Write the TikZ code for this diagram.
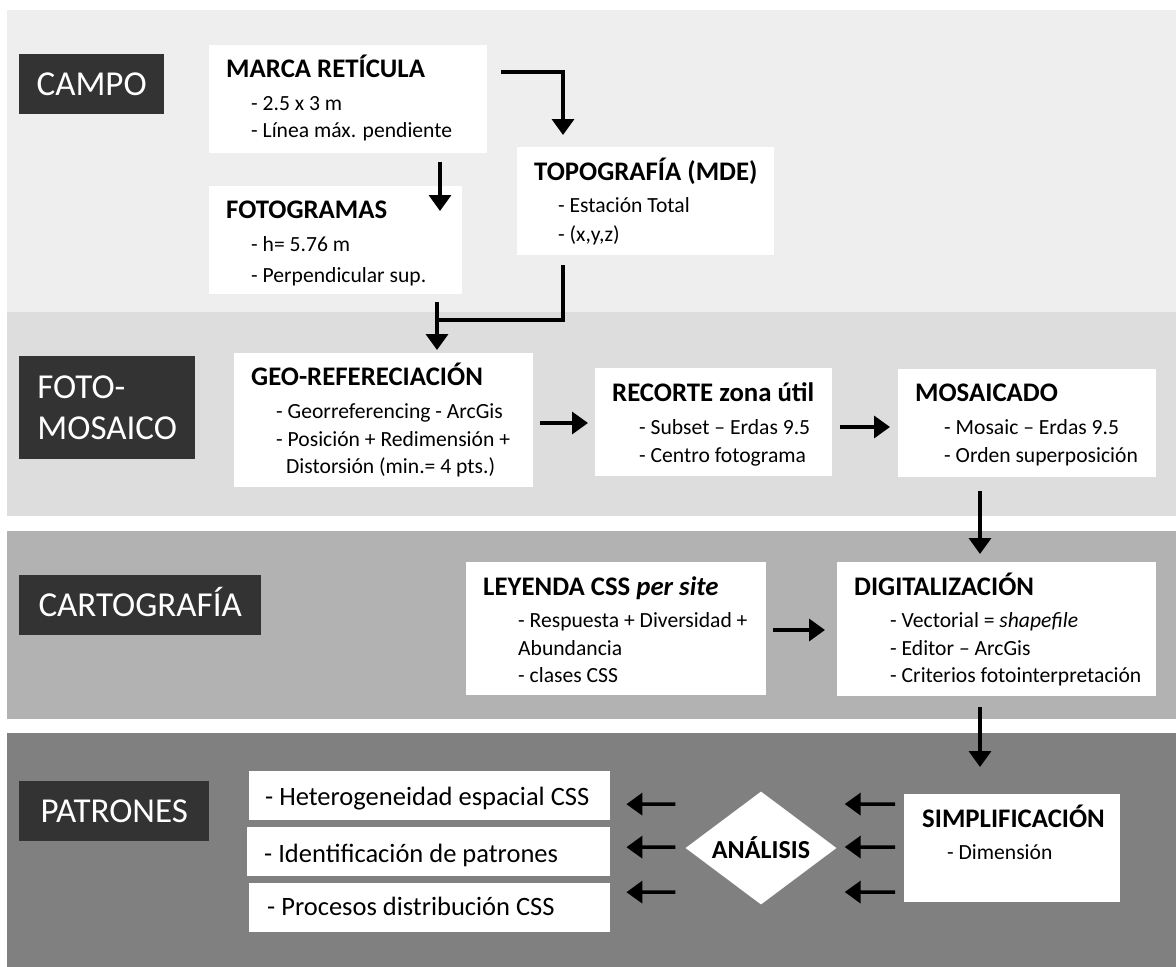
\documentclass[tikz,border=0pt]{standalone}
\usepackage{fontspec}
\setmainfont{Carlito}
\usetikzlibrary{arrows.meta,shapes.geometric,calc}
\definecolor{bandCampo}{HTML}{EEEEEE}
\definecolor{bandFoto}{HTML}{DDDDDD}
\definecolor{bandCarto}{HTML}{B2B2B2}
\definecolor{bandPatr}{HTML}{808080}
\definecolor{phasebg}{HTML}{333333}
\begin{document}
\begin{tikzpicture}[x=1pt,y=-1pt,
  wbox/.style={fill=white, inner sep=0pt, anchor=north west},
  phase/.style={fill=phasebg, text=white, inner sep=0pt, anchor=north west,
    align=left, font=\fontsize{35}{41}\selectfont},
  ttl/.style={anchor=base west, inner sep=0pt, font=\fontsize{26.8}{32}\selectfont\bfseries},
  itm/.style={anchor=base west, inner sep=0pt, font=\fontsize{21.6}{27}\selectfont},
  big/.style={anchor=base west, inner sep=0pt, font=\fontsize{26.5}{32}\selectfont},
  arr/.style={line width=3.5pt, -{Triangle[width=22pt,length=16pt]}},
  conn/.style={line width=3.5pt}]
\useasboundingbox (0,0) rectangle (1176,967);
\fill[white] (0,0) rectangle (1176,967);

% phase bands
\fill[bandCampo] (7,10) rectangle (1176,312);
\fill[bandFoto]  (7,312) rectangle (1176,516);
\fill[bandCarto] (7,531) rectangle (1176,719);
\fill[bandPatr]  (7,733) rectangle (1176,967);

% phase labels
\node[phase, minimum width=145pt, minimum height=60pt, text height=23pt, text depth=0pt] (lcampo) at (19,54) {CAMPO};
\node[phase, minimum width=176pt, minimum height=103pt] (lfoto) at (19,356) {FOTO-\\MOSAICO};
\node[phase, minimum width=242pt, minimum height=60pt, text height=23pt, text depth=0pt] (lcarto) at (19,575) {CARTOGRAFÍA};
\node[phase, minimum width=190pt, minimum height=60pt, text height=23pt, text depth=0pt] (lpatr) at (19,781) {PATRONES};

% process boxes
\node[wbox, minimum width=278pt, minimum height=108pt] (marca) at (209,45) {};
\node[ttl] (marcaT) at (226,77) {MARCA RETÍCULA};
\node[itm] (marcaA) at (251,110) {- 2.5 x 3 m};
\node[itm] (marcaB) at (251,137) {- Línea máx. pendiente};

\node[wbox, minimum width=253pt, minimum height=108pt] (foto) at (209,186) {};
\node[ttl] (fotoT) at (226,218) {FOTOGRAMAS};
\node[itm] (fotoA) at (251,251) {- h= 5.76 m};
\node[itm] (fotoB) at (251,282) {- Perpendicular sup.};

\node[wbox, minimum width=257pt, minimum height=108pt] (topo) at (517,147) {};
\node[ttl] (topoT) at (534,180) {TOPOGRAFÍA (MDE)};
\node[itm] (topoA) at (558,212) {- Estación Total};
\node[itm] (topoB) at (558,241) {- (x,y,z)};

\node[wbox, minimum width=299pt, minimum height=134pt] (geo) at (234,353) {};
\node[ttl] (geoT) at (251,385) {GEO-REFERECIACIÓN};
\node[itm] (geoA) at (276,418) {- Georreferencing - ArcGis};
\node[itm] (geoB) at (276,446) {- Posición + Redimensión +};
\node[itm] (geoC) at (286,473) {Distorsión (min.= 4 pts.)};

\node[wbox, minimum width=237pt, minimum height=108pt] (recorte) at (595,368) {};
\node[ttl] (recorteT) at (612,401) {RECORTE zona útil};
\node[itm] (recorteA) at (639,434) {- Subset – Erdas 9.5};
\node[itm] (recorteB) at (639,462) {- Centro fotograma};

\node[wbox, minimum width=258pt, minimum height=108pt] (mosaic) at (898,369) {};
\node[ttl] (mosaicT) at (915,401) {MOSAICADO};
\node[itm] (mosaicA) at (944,434) {- Mosaic – Erdas 9.5};
\node[itm] (mosaicB) at (944,462) {- Orden superposición};

\node[wbox, minimum width=300pt, minimum height=133pt] (ley) at (466,562) {};
\node[ttl] (leyT) at (483,595) {LEYENDA CSS \textit{per site}};
\node[itm] (leyA) at (518,627) {- Respuesta + Diversidad +};
\node[itm] (leyB) at (518,655) {Abundancia};
\node[itm] (leyC) at (518,682) {- clases CSS};

\node[wbox, minimum width=319pt, minimum height=134pt] (digi) at (837,562) {};
\node[ttl] (digiT) at (854,595) {DIGITALIZACIÓN};
\node[itm] (digiA) at (890,627) {- Vectorial = \textit{shapefile}};
\node[itm] (digiB) at (890,655) {- Editor – ArcGis};
\node[itm] (digiC) at (890,682) {- Criterios fotointerpretación};

\node[wbox, minimum width=216pt, minimum height=108pt] (simp) at (904,794) {};
\node[ttl] (simpT) at (922,827) {SIMPLIFICACIÓN};
\node[itm] (simpA) at (947,859) {- Dimensión};

\node[diamond, fill=white, inner sep=0pt, aspect=1.336, minimum width=151pt,
  minimum height=113pt, font=\fontsize{26}{30}\selectfont\bfseries] (ana) at (761,848) {ANÁLISIS};

\node[wbox, minimum width=361pt, minimum height=49pt] (p1) at (249,771) {};
\node[big] (p1T) at (265,805) {- Heterogeneidad espacial CSS};
\node[wbox, minimum width=363pt, minimum height=49pt] (p2) at (247,827) {};
\node[big] (p2T) at (264,862) {- Identificación de patrones};
\node[wbox, minimum width=361pt, minimum height=49pt] (p3) at (249,883) {};
\node[big] (p3T) at (267,915) {- Procesos distribución CSS};

% connectors
\draw[arr] ($(marca.north east)+(14,27)$) -| ($(topo.north west)+(46,-12)$);
\draw[arr] ($(marca.south west)+(231,9)$) -- ($(foto.north west)+(231,25)$);
\draw[conn] ($(topo.south west)+(46,10)$) |- ($(geo.north west)+(203,-33)$);
\draw[arr] ($(foto.south west)+(228,8)$) -- ($(geo.north west)+(203,-3)$);
\draw[arr] ($(geo.north east)+(7,70)$) -- ($(recorte.north west)+(-7,55)$);
\draw[arr] ($(recorte.north east)+(8,59)$) -- ($(mosaic.north west)+(-8,58)$);
\draw[arr] ($(mosaic.south west)+(82,14)$) -- ($(digi.north west)+(143,-8)$);
\draw[arr] ($(ley.north east)+(7,68)$) -- ($(digi.north west)+(-12,68)$);
\draw[arr] ($(digi.south west)+(143,11)$) -- ($(simp.north west)+(76,-27)$);
\draw[arr] ($(simp.west)+(-9,-44)$) -- ($(ana.east)+(8,-44)$);
\draw[arr] ($(simp.west)+(-9,-1)$) -- ($(ana.east)+(8,-1)$);
\draw[arr] ($(simp.west)+(-9,44)$) -- ($(ana.east)+(8,44)$);
\draw[arr] ($(ana.west)+(-10,-44)$) -- ($(p1.east)+(16,8.5)$);
\draw[arr] ($(ana.west)+(-10,-1)$) -- ($(p2.east)+(16,-4.5)$);
\draw[arr] ($(ana.west)+(-10,44)$) -- ($(p3.east)+(16,-15.5)$);
\end{tikzpicture}
\end{document}
